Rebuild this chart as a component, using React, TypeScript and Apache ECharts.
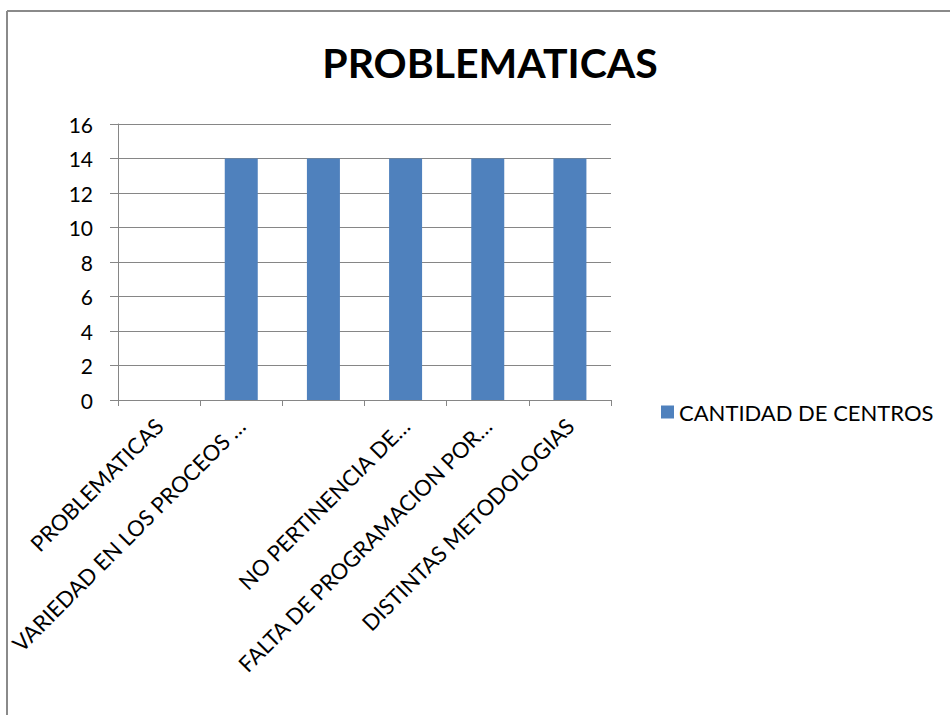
import React, { useEffect, useRef } from "react";
import * as echarts from "echarts";

const categories = [
  "PROBLEMATICAS",
  "VARIEDAD EN LOS PROCEOS …",
  "",
  "NO PERTINENCIA DE…",
  "FALTA DE PROGRAMACION POR…",
  "DISTINTAS METODOLOGIAS",
];
const seriesName = "CANTIDAD DE CENTROS";
const values = [0, 14, 14, 14, 14, 14];
const titleText = "PROBLEMATICAS";

export default function App() {
  const ref = useRef<HTMLDivElement>(null);
  useEffect(() => {
    if (!ref.current) return;
    const chart = echarts.init(ref.current, undefined, { renderer: "svg" });
    const font = "Lato, 'Open Sans', sans-serif";
    chart.setOption({
      animation: false,
      backgroundColor: "#ffffff",
      title: {
        text: titleText,
        left: 485,
        top: 37,
        textAlign: "center",
        textStyle: { fontFamily: font, fontSize: 41, fontWeight: "bold", color: "#000" },
      },
      grid: { left: 118, right: 339, top: 124, bottom: 315, containLabel: false },
      legend: {
        data: [seriesName],
        left: 656,
        top: 396,
        icon: "rect",
        itemWidth: 13,
        itemHeight: 13,
        itemGap: 8,
        textStyle: { fontFamily: font, fontSize: 22, color: "#000" },
      },
      xAxis: {
        type: "category",
        data: categories,
        axisLine: { show: true, lineStyle: { color: "#868686", width: 1 } },
        axisTick: { show: true, length: 6, lineStyle: { color: "#868686" } },
        axisLabel: {
          rotate: 45,
          interval: 0,
          fontFamily: font,
          fontSize: 22,
          color: "#000",
          margin: 22,
        },
      },
      yAxis: {
        type: "value",
        min: 0,
        max: 16,
        interval: 2,
        axisLine: { show: true, lineStyle: { color: "#868686", width: 1 } },
        axisTick: { show: true, length: 8, lineStyle: { color: "#868686" } },
        splitLine: { show: true, lineStyle: { color: "#868686", width: 1 } },
        axisLabel: { fontFamily: font, fontSize: 21, color: "#000", margin: 25 },
      },
      series: [
        {
          name: seriesName,
          type: "bar",
          data: values,
          barWidth: 33,
          itemStyle: { color: "#4F81BD" },
        },
      ],
      graphic: [
        {
          type: "line",
          shape: { x1: 7, y1: 11, x2: 950, y2: 11 },
          style: { stroke: "#8a8a8a", lineWidth: 2 },
        },
        {
          type: "line",
          shape: { x1: 7, y1: 11, x2: 7, y2: 715 },
          style: { stroke: "#8a8a8a", lineWidth: 2 },
        },
      ],
    });
    return () => chart.dispose();
  }, []);
  return (
    <div
      ref={ref}
      style={{ position: "absolute", left: 0, top: 0, width: 950, height: 715 }}
    />
  );
}
